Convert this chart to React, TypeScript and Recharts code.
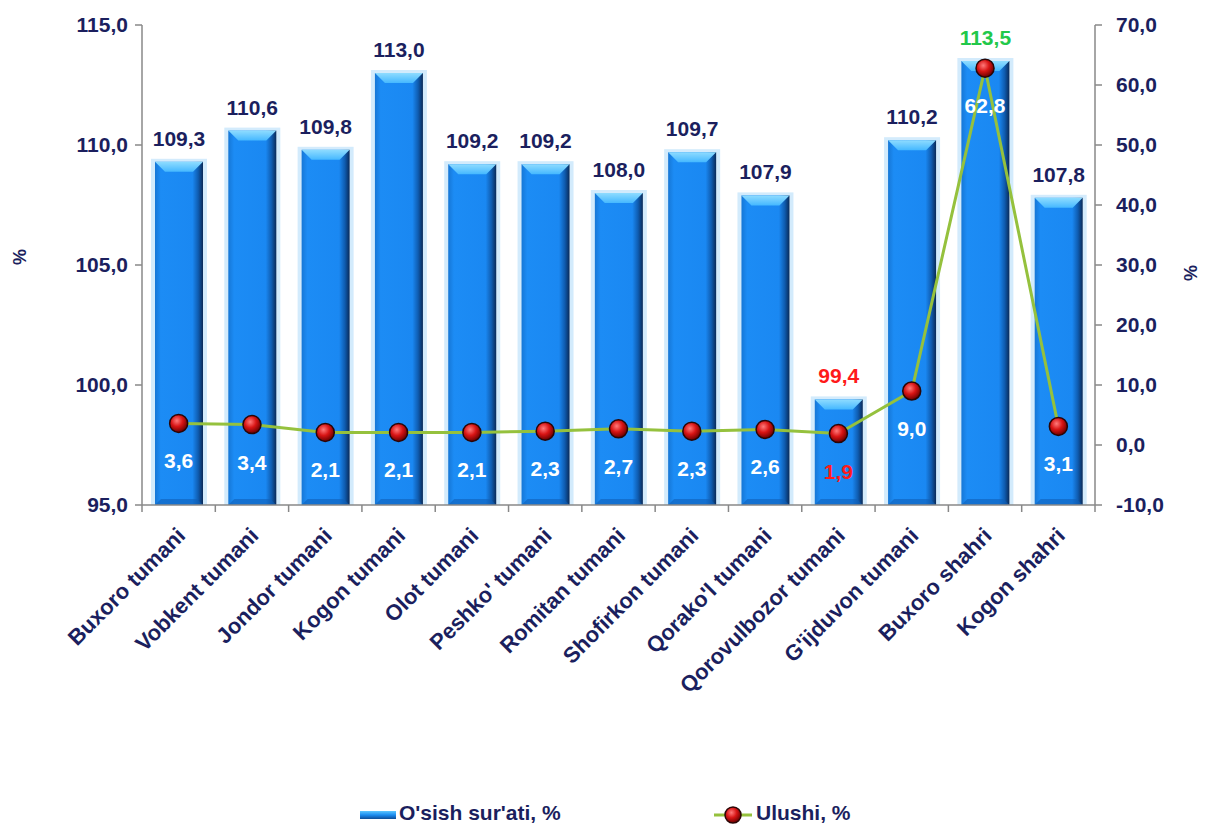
import React from "react";
import {
  ComposedChart,
  Bar,
  Line,
  XAxis,
  YAxis,
  Legend,
  LabelList,
} from "recharts";

const districts = [
  "Buxoro tumani",
  "Vobkent tumani",
  "Jondor tumani",
  "Kogon tumani",
  "Olot tumani",
  "Peshko' tumani",
  "Romitan tumani",
  "Shofirkon tumani",
  "Qorako'l tumani",
  "Qorovulbozor tumani",
  "G'ijduvon tumani",
  "Buxoro shahri",
  "Kogon shahri",
];

// O'sish sur'ati, %
const growth = [109.3, 110.6, 109.8, 113.0, 109.2, 109.2, 108.0, 109.7, 107.9, 99.4, 110.2, 113.5, 107.8];
// Ulushi, %
const share = [3.6, 3.4, 2.1, 2.1, 2.1, 2.3, 2.7, 2.3, 2.6, 1.9, 9.0, 62.8, 3.1];

const leftTicks = [95, 100, 105, 110, 115];
const rightTicks = [-10, 0, 10, 20, 30, 40, 50, 60, 70];

const data = districts.map((name, i) => ({ name, growth: growth[i], share: share[i] }));

const NAVY = "#1b1f5e";
const FONT = "'Liberation Sans', Arial, sans-serif";
const fmt = (v: number) => v.toFixed(1).replace(".", ",");

const maxGrowth = Math.max(...growth);
const minGrowth = Math.min(...growth);
const minShare = Math.min(...share);

const PLOT_LEFT = 142;
const PLOT_RIGHT = 1095;
const BAND = (PLOT_RIGHT - PLOT_LEFT) / districts.length;

function GlassBar(props: any) {
  const { x, y, width, height } = props;
  const b = 10;
  return (
    <g>
      <rect x={x - 4} y={y - 3} width={width + 8} height={height + 3} fill="#d3ebfc" />
      <rect x={x} y={y} width={width} height={height} fill="url(#barGrad)" />
      <polygon
        points={`${x},${y} ${x + width},${y} ${x + width - b},${y + b} ${x + b},${y + b}`}
        fill="url(#bevelGrad)"
      />
      <polygon
        points={`${x},${y + height} ${x + width},${y + height} ${x + width - 6},${y + height - 6} ${x + 6},${y + height - 6}`}
        fill="#0f5fb8"
        opacity={0.6}
      />
    </g>
  );
}

function BallDot(props: any) {
  const { cx, cy, index } = props;
  if (cx == null || cy == null) return null;
  return (
    <g key={`dot-${index}`}>
      <circle cx={cx} cy={cy} r={9} fill="url(#ballGrad)" stroke="#2a0606" strokeWidth={1.5} />
    </g>
  );
}

function GrowthLabel(props: any) {
  const { x, y, width, value } = props;
  const fill = value === maxGrowth ? "#22c84a" : value === minGrowth ? "#ff1a1a" : NAVY;
  return (
    <text
      x={x + width / 2}
      y={y - 16}
      textAnchor="middle"
      fill={fill}
      fontFamily={FONT}
      fontWeight="bold"
      fontSize={21}
    >
      {fmt(value)}
    </text>
  );
}

function ShareLabel(props: any) {
  const { x, y, value } = props;
  const fill = value === minShare ? "#ff1a1a" : "#ffffff";
  return (
    <text
      x={x}
      y={y + 45}
      textAnchor="middle"
      fill={fill}
      fontFamily={FONT}
      fontWeight="bold"
      fontSize={21}
    >
      {fmt(value)}
    </text>
  );
}

function CategoryTick(props: any) {
  const { x, payload, index } = props;
  const ay = 505;
  const ax = x + 8;
  const ty = ay + 32;
  return (
    <g>
      <line x1={x - BAND / 2} y1={ay} x2={x - BAND / 2} y2={ay + 7} stroke="#888" strokeWidth={1.5} />
      {index === districts.length - 1 && (
        <line x1={x + BAND / 2} y1={ay} x2={x + BAND / 2} y2={ay + 7} stroke="#888" strokeWidth={1.5} />
      )}
      <text
        x={ax}
        y={ty}
        transform={`rotate(-45, ${ax}, ${ty})`}
        textAnchor="end"
        fill={NAVY}
        fontFamily={FONT}
        fontWeight="bold"
        fontSize={22}
      >
        {payload.value}
      </text>
    </g>
  );
}

function LegendBox() {
  const text = {
    position: "absolute" as const,
    top: 2,
    fontFamily: FONT,
    fontWeight: "bold" as const,
    fontSize: 21,
    color: NAVY,
    whiteSpace: "nowrap" as const,
  };
  return (
    <div style={{ position: "relative", height: 32, width: 1208 }}>
      <svg width={1208} height={32} style={{ position: "absolute", left: 0, top: 0 }}>
        <rect x={360} y={12} width={36} height={8} fill="url(#legendBar)" />
        <line x1={714} y1={16} x2={752} y2={16} stroke="#95c13d" strokeWidth={3} />
        <circle cx={733} cy={16} r={8} fill="url(#ballGrad2)" stroke="#2a0606" strokeWidth={1.5} />
        <defs>
          <linearGradient id="legendBar" x1="0" y1="0" x2="0" y2="1">
            <stop offset="0" stopColor="#5cc6ff" />
            <stop offset="0.5" stopColor="#1a8cf0" />
            <stop offset="1" stopColor="#0d4c96" />
          </linearGradient>
          <radialGradient id="ballGrad2" cx="0.4" cy="0.35" r="0.65">
            <stop offset="0" stopColor="#ff7a7a" />
            <stop offset="0.5" stopColor="#d81414" />
            <stop offset="1" stopColor="#6a0000" />
          </radialGradient>
        </defs>
      </svg>
      <span style={{ ...text, left: 399 }}>O'sish sur'ati, %</span>
      <span style={{ ...text, left: 756 }}>Ulushi, %</span>
    </div>
  );
}

export default function App() {
  const tickStyle = { fill: NAVY, fontFamily: FONT, fontWeight: "bold", fontSize: 21 };
  return (
    <div style={{ position: "absolute", left: 0, top: 0, width: 1208, height: 831, background: "#fff" }}>
      <ComposedChart
        width={1208}
        height={831}
        data={data}
        margin={{ top: 25, right: 0, left: 0, bottom: 0 }}
      >
        <defs>
          <linearGradient id="barGrad" x1="0" y1="0" x2="1" y2="0">
            <stop offset="0" stopColor="#1677d6" />
            <stop offset="0.12" stopColor="#1c8cf5" />
            <stop offset="0.78" stopColor="#1a88f2" />
            <stop offset="0.9" stopColor="#0f5cb0" />
            <stop offset="1" stopColor="#0a2a58" />
          </linearGradient>
          <linearGradient id="bevelGrad" x1="0" y1="0" x2="0" y2="1">
            <stop offset="0" stopColor="#8fdcff" />
            <stop offset="1" stopColor="#45b8ff" />
          </linearGradient>
          <radialGradient id="ballGrad" cx="0.4" cy="0.35" r="0.65">
            <stop offset="0" stopColor="#ff7a7a" />
            <stop offset="0.5" stopColor="#d81414" />
            <stop offset="1" stopColor="#6a0000" />
          </radialGradient>
        </defs>
        <XAxis
          dataKey="name"
          interval={0}
          height={294}
          tickLine={false}
          axisLine={{ stroke: "#888", strokeWidth: 1.5 }}
          tick={<CategoryTick />}
        />
        <YAxis
          yAxisId="left"
          width={142}
          domain={[95, 115]}
          ticks={leftTicks}
          tickFormatter={fmt}
          tick={tickStyle}
          tickSize={7}
          tickMargin={7}
          axisLine={{ stroke: "#888", strokeWidth: 1.5 }}
          tickLine={{ stroke: "#888", strokeWidth: 1.5 }}
          allowDataOverflow
          label={{
            value: "%",
            angle: -90,
            position: "insideLeft",
            offset: 20,
            style: { fill: NAVY, fontFamily: FONT, fontWeight: "bold", fontSize: 18 },
          }}
        />
        <YAxis
          yAxisId="right"
          orientation="right"
          width={113}
          domain={[-10, 70]}
          ticks={rightTicks}
          tickFormatter={fmt}
          tick={tickStyle}
          tickSize={7}
          tickMargin={14}
          axisLine={{ stroke: "#888", strokeWidth: 1.5 }}
          tickLine={{ stroke: "#888", strokeWidth: 1.5 }}
          label={{
            value: "%",
            angle: -90,
            position: "insideRight",
            offset: 17,
            style: { fill: NAVY, fontFamily: FONT, fontWeight: "bold", fontSize: 18 },
          }}
        />
        <Legend verticalAlign="bottom" content={<LegendBox />} wrapperStyle={{ left: 0, width: 1208 }} />
        <Bar
          yAxisId="left"
          dataKey="growth"
          name="O'sish sur'ati, %"
          barSize={48}
          shape={<GlassBar />}
          isAnimationActive={false}
        >
          <LabelList dataKey="growth" content={<GrowthLabel />} />
        </Bar>
        <Line
          yAxisId="right"
          dataKey="share"
          name="Ulushi, %"
          type="linear"
          stroke="#95c13d"
          strokeWidth={3}
          dot={<BallDot />}
          activeDot={false}
          isAnimationActive={false}
        >
          <LabelList dataKey="share" content={<ShareLabel />} />
        </Line>
      </ComposedChart>
    </div>
  );
}
